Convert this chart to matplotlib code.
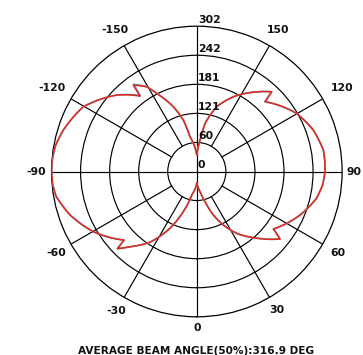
import numpy as np
import matplotlib
matplotlib.use('Agg')
import matplotlib.pyplot as plt

# ---- data (angle in degrees, measured from bottom, counter-clockwise) ----
red_angles_deg = [0, 9.3, 15.2, 20.8, 26.3, 32.8, 41.9, 51, 53.1, 67.1, 77.4, 84, 90, 95, 99.6,
                  109.6, 120.2, 135.7, 136.8, 143.1, 153.9, 162.9, 170.2, 174, 180,
                  191.1, 194.7, 199.9, 207.2, 210.6, 216.3, 217, 226.3, 240.3, 252.7, 260,
                  267, 275, 280, 288.9, 300.2, 313.3, 314.2, 318.4, 326.5, 334.7, 341.4,
                  347.8, 360]
red_values = [24.5, 42.6, 65, 96.7, 124, 153, 186, 222.7, 199, 232.8, 255, 263, 266.5, 267, 266.7,
              257, 240, 202.8, 227.4, 207, 173, 141, 101.6, 65.9, 34.3,
              73.7, 110.7, 143, 182.6, 204.7, 223, 196.3, 230, 271.6, 290.5, 299,
              302, 301, 297, 278.6, 248.8, 207.8, 230, 209, 176.4, 130.5, 88,
              50, 24.5]

cyan_angles_deg = [0, 9.3, 15.2, 20.8, 26.3, 32.8, 41.9, 51, 53.1, 67.1, 77.4, 84, 90, 95, 99.6,
                   109.6, 120.2, 135.7, 136.8, 143.1, 153.9, 162.9, 170.2, 174, 180,
                   191.1, 194.7, 199.9, 207.2, 210.6, 215.8, 216.6, 226.3, 240.3, 252.7, 260,
                   267, 275, 280, 288.9, 300.2, 313.3, 314.2, 318.4, 326.5, 334.7, 341.4,
                   347.8, 360]
cyan_values = [24.5, 42.6, 65, 96.7, 124, 153, 186, 222.7, 199, 232.8, 255, 263, 266.5, 267, 266.7,
               257, 240, 202.8, 227.4, 207, 173, 141, 101.6, 65.9, 34.3,
               73.7, 110.7, 143, 182.6, 204.7, 224, 197, 230, 271.6, 290.5, 299,
               302, 301, 297, 278.6, 248.8, 207.8, 230, 209, 176.4, 130.5, 88,
               50, 24.5]

r_ticks = [0, 60.4, 120.8, 181.2, 241.6, 302]
r_tick_labels = ['0', '60', '121', '181', '242', '302']
theta_ticks_deg = [0, 30, 60, 90, 120, 150, 210, 240, 270, 300, 330]
theta_tick_labels = ['0', '30', '60', '90', '120', '150', '-150', '-120', '-90', '-60', '-30']
spoke_angles_deg = [0, 30, 60, 90, 120, 150, 180, 210, 240, 270, 300, 330]
caption = 'AVERAGE BEAM ANGLE(50%):316.9 DEG'

# label distance from centre, as a fraction of the outer radius (layout only)
theta_label_dist = [1.079, 1.102, 1.125, 1.08, 1.156, 1.121, 1.123, 1.148, 1.108, 1.116, 1.111]

r_max = r_ticks[-1]

fig = plt.figure(figsize=(3.63, 3.55), dpi=100)
ax = fig.add_axes([0.1419, 0.1076, 0.8006, 0.8186], projection='polar')
ax.set_theta_zero_location('S')
ax.set_theta_direction(1)
ax.set_ylim(0, r_max)

ax.set_xticks([])
ax.set_yticks(r_ticks[1:-1])
ax.set_yticklabels([])
ax.xaxis.grid(False)
ax.yaxis.grid(True, color='black', linewidth=0.85)
ax.spines['polar'].set_color('black')
ax.spines['polar'].set_linewidth(0.9)

for a in spoke_angles_deg:
    r0 = 0 if a % 90 == 0 else r_ticks[1]
    ax.plot([np.deg2rad(a)] * 2, [r0, r_max], color='black', linewidth=0.85, zorder=1)

(lc,) = ax.plot(np.deg2rad(cyan_angles_deg), cyan_values, color='#4cc6e8', linewidth=1.2, zorder=3)
(lr,) = ax.plot(np.deg2rad(red_angles_deg), red_values, color='#e02a1f', linewidth=1.2, zorder=4)
for ln in (lc, lr):
    ln.get_path()._interpolation_steps = 40

font = 'DejaVu Sans'
for a, lab, d in zip(theta_ticks_deg, theta_tick_labels, theta_label_dist):
    ax.text(np.deg2rad(a), r_max * d, lab, ha='center', va='center', family=font,
            fontsize=7.8, fontweight='bold', color='#111111', clip_on=False)

for r, lab in zip(r_ticks, r_tick_labels):
    ax.annotate(lab, xy=(np.pi, r), xytext=(0.8, 2.6), textcoords='offset points',
                ha='left', va='baseline', fontsize=7.8, fontweight='bold', family=font,
                color='#111111', zorder=5)

fig.text(196 / 363, 1 - 350.5 / 355, caption, ha='center', va='center', family=font,
         fontsize=7.6, fontweight='bold', color='#111111')

fig.savefig('out.png', dpi=100)
